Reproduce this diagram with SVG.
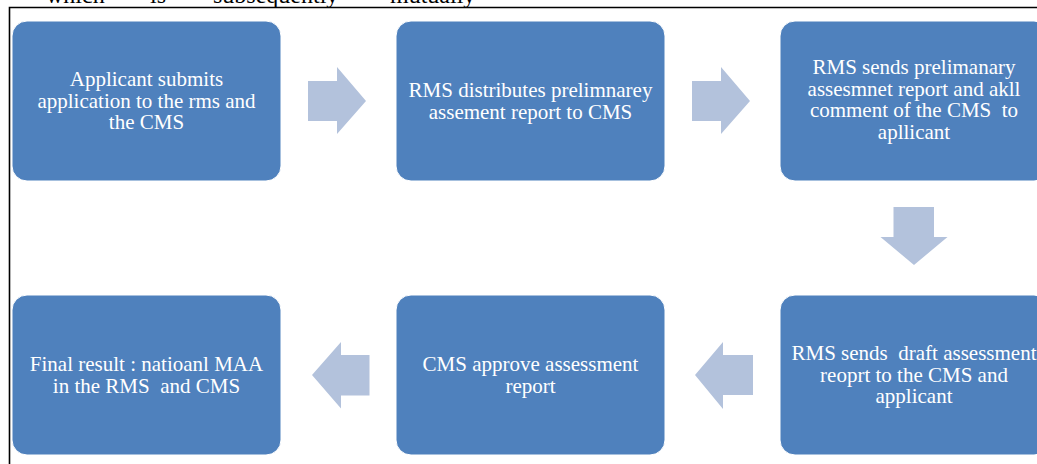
<svg xmlns="http://www.w3.org/2000/svg" width="1037" height="464" viewBox="0 0 1037 464">
<style>
.box{fill:#4F81BD;stroke:#FFFFFF;stroke-width:1}
.lbl{font-size:21px;fill:#FFFFFF;text-anchor:middle}
.arr{fill:#B3C2DC}
.top{font-size:24px;fill:#000000}
</style>
<rect width="1037" height="464" fill="#FFFFFF"/>
<g font-family="'Liberation Serif', 'DejaVu Serif', serif">
<text class="top" y="2.5"><tspan x="46">which</tspan><tspan x="150">is</tspan><tspan x="213">subsequently</tspan><tspan x="390">mutually</tspan></text>
<path d="M9.5,464 V7.5 H1037" fill="none" stroke="#000000" stroke-width="1.6"/>
<g id="connectors">
<polygon class="arr" points="308,81 337,81 337,67 366,101 337,134 337,121 308,121"/>
<polygon class="arr" points="692,81 721,81 721,67 750,101 721,134 721,121 692,121"/>
<polygon class="arr" points="893.5,207 934,207 934,237 947.5,237 914,265 880.5,237 893.5,237"/>
<polygon class="arr" points="753,355 723,355 723,342 695,375 723,409 723,395 753,395"/>
<polygon class="arr" points="369.5,355 341,355 341,342 312,375 341,408.5 341,395.5 369.5,395.5"/>
</g>
<g id="n1">
<rect class="box" x="12" y="21" width="269" height="160" rx="15"/>
<text class="lbl" x="146.5" y="86">Applicant submits</text>
<text class="lbl" x="146.5" y="107.7">application to the rms and</text>
<text class="lbl" x="146.5" y="129.3">the CMS</text>
</g>
<g id="n2">
<rect class="box" x="396" y="21" width="269" height="160" rx="15"/>
<text class="lbl" x="530.5" y="97">RMS distributes prelimnarey</text>
<text class="lbl" x="530.5" y="118.7">assement report to CMS</text>
</g>
<g id="n3">
<rect class="box" x="780" y="21" width="269" height="160" rx="15"/>
<text class="lbl" x="914" y="74">RMS sends prelimanary</text>
<text class="lbl" x="914" y="95.7">assesmnet report and akll</text>
<text class="lbl" x="914" y="117.3" xml:space="preserve">comment of the CMS  to</text>
<text class="lbl" x="914" y="138.7">apllicant</text>
</g>
<g id="n4">
<rect class="box" x="780" y="295" width="269" height="160" rx="15"/>
<text class="lbl" x="914" y="360" xml:space="preserve">RMS sends  draft assessment</text>
<text class="lbl" x="914" y="381.7">reoprt to the CMS and</text>
<text class="lbl" x="914" y="403.3">applicant</text>
</g>
<g id="n5">
<rect class="box" x="396" y="295" width="269" height="160" rx="15"/>
<text class="lbl" x="530.5" y="371">CMS approve assessment</text>
<text class="lbl" x="530.5" y="392.7">report</text>
</g>
<g id="n6">
<rect class="box" x="12" y="295" width="269" height="160" rx="15"/>
<text class="lbl" x="146.5" y="371">Final result : natioanl MAA</text>
<text class="lbl" x="146.5" y="392.7" xml:space="preserve">in the RMS  and CMS</text>
</g>
</g>
</svg>
